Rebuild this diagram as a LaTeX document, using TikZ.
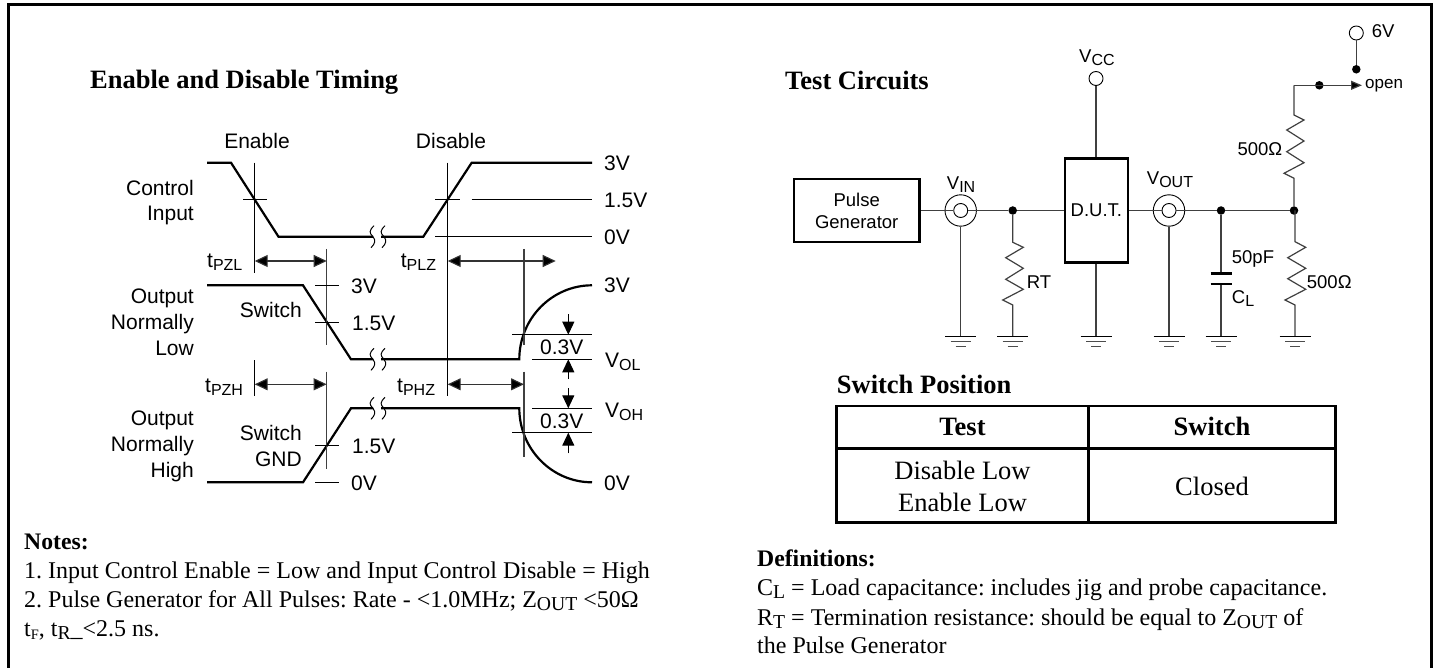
\documentclass[tikz,border=0pt]{standalone}
\usepackage{fontspec}
\setmainfont{Liberation Serif}
\newfontfamily\arialf{Liberation Sans}
\usetikzlibrary{arrows.meta}
\newcommand{\lowr}[2][0.82]{\raisebox{-3pt}{\scalebox{#1}{#2}}}
\newcommand{\rlowr}[1]{\raisebox{-3pt}{\fontsize{16}{16}\selectfont #1}}
\frenchspacing
\tikzset{
  lbl/.style={inner sep=0pt,font=\arialf\fontsize{21}{21}\selectfont,anchor=base west},
  lblr/.style={lbl,anchor=base east},
  lblc/.style={lbl,anchor=base},
  cl/.style={inner sep=0pt,font=\arialf\fontsize{18.5}{18.5}\selectfont,anchor=base west},
  clc/.style={cl,anchor=base},
  ttl/.style={inner sep=0pt,font=\bfseries\fontsize{26.5}{26.5}\selectfont,anchor=base west},
  note/.style={inner sep=0pt,font=\fontsize{24}{24}\selectfont,anchor=base west},
  cellt/.style={inner sep=0pt,font=\fontsize{26.5}{26.5}\selectfont,anchor=base},
  sig/.style={line width=2.2pt,black},
  thn/.style={line width=1pt,black},
  gry/.style={line width=1.2pt,black!75},
  wire/.style={line width=1.2pt,black!75},
  boxx/.style={line width=2.5pt,draw=black,inner sep=0pt},
  dim/.style={line width=1.1pt,black!80,{Triangle[length=13pt,width=12pt,fill=black]}-{Triangle[length=13pt,width=12pt,fill=black]}},
  dimr/.style={line width=1.1pt,black,-{Triangle[length=13pt,width=12pt]}},
  dot/.style={circle,fill=black,inner sep=0pt,minimum size=8.5pt},
  ring/.style={circle,draw=black,line width=0.9pt,fill=white,inner sep=0pt},
  gnd/.pic={\draw[line width=1.1pt,black] (-15.5,0)--(15.5,0);\draw[line width=1.1pt,black!70] (-10,5)--(10,5);\draw[line width=1.1pt,black!70] (-5,10)--(5,10);}
}
\begin{document}
\begin{tikzpicture}[x=1pt,y=-1pt]
\useasboundingbox (0,0) rectangle (1437,668);
\begin{scope}
\clip (0,0) rectangle (1437,668);
\draw[line width=3pt] (8.7,4.7) rectangle (1431.7,675);
\end{scope}
% titles
\node[ttl] (t1) at (90,88.3) {Enable and Disable Timing};
\node[ttl] (t2) at (785,90) {Test Circuits};
\node[ttl] (t3) at (836.7,393.3) {Switch Position};
% timing signals
\draw[sig] (207,162.7)--(231,162.7)--(278.5,236.7)--(373,236.7);
\draw[sig] (381,236.7)--(423.3,236.7)--(471.7,162.7)--(592,162.7);
\draw[sig] (207,285.3)--(303,285.3)--(351,359.3)--(373,359.3);
\draw[sig] (381,359.3)--(519.3,359.3) .. controls (519.3,318.5) and (552,285.3) .. (592,285.3);
\draw[sig] (207,482.3)--(303,482.3)--(351,408.3)--(373,408.3);
\draw[sig] (381,408.3)--(519.3,408.3) .. controls (519.3,449.1) and (552,482.3) .. (592,482.3);
% breaks
\foreach \yy in {236.7,359.3,408.3}{
 \foreach \xx in {0,11}{
  \draw[thn] ([xshift=\xx pt,yshift=11pt]374,\yy) .. controls ([xshift=\xx pt,yshift=6pt]369,\yy) and ([xshift=\xx pt,yshift=4pt]369,\yy) .. ([xshift=\xx pt]373,\yy) .. controls ([xshift=\xx pt,yshift=-4pt]376,\yy) and ([xshift=\xx pt,yshift=-7pt]375,\yy) .. ([xshift=\xx pt,yshift=-11pt]371,\yy);
 }
}
% verticals
\draw[thn] (254.7,162.7)--(254.7,272.7);
\draw[thn] (243,199.7)--(266.7,199.7);
\draw[gry] (326.7,249)--(326.7,345);
\draw[gry] (326.7,371.7)--(326.7,469.3);
\draw[thn] (315,285.3)--(339,285.3);
\draw[thn] (315,322.3)--(339,322.3);
\draw[thn] (315,445.3)--(339,445.3);
\draw[thn] (315,482.3)--(339,482.3);
\draw[thn] (254.7,360)--(254.7,395.7);
\draw[thn] (447.7,162.7)--(447.7,395.7);
\draw[thn] (435,199.7)--(460,199.7);
\draw[thn] (471.7,199.7)--(592,199.7);
\draw[thn] (435,236.7)--(592,236.7);
\draw[gry] (524,249)--(524,345);
\draw[gry] (524,371.7)--(524,457.3);
\draw[thn] (512.3,334.7)--(592,334.7);
\draw[thn] (532.3,359.3)--(592,359.3);
\draw[thn] (532.3,408.3)--(592,408.3);
\draw[thn] (512.3,432.7)--(592,432.7);
% dimension arrows
\coordinate (d1a) at (254.7,261); \coordinate (d1b) at (326.7,261);
\coordinate (d2a) at (254.7,384.3); \coordinate (d2b) at (326.7,384.3);
\coordinate (d3a) at (447.7,261); \coordinate (d3b) at (555.7,261);
\coordinate (d4a) at (447.7,384.3); \coordinate (d4b) at (524,384.3);
\draw[dim] (d1a)--(d1b);
\draw[dim] (d2a)--(d2b);
\draw[dim] (d3a)--(d3b);
\draw[dim] (d4a)--(d4b);
\draw[dimr] (568.3,314.3)--(568.3,334.7);
\draw[dimr] (568.3,379.3)--(568.3,359.3);
\draw[dimr] (568.3,388.3)--(568.3,408.3);
\draw[dimr] (568.3,453.3)--(568.3,432.7);
% timing labels
\node[lblc] (a1) at (257,149) {Enable};
\node[lblc] (a2) at (451,149) {Disable};
\node[lblr] (a3) at (194,196) {Control};
\node[lblr] (a4) at (194,221) {Input};
\node[lblr] (a5) at (194,303) {Output};
\node[lblr] (a6) at (194,329) {Normally};
\node[lblr] (a7) at (194,355) {Low};
\node[lblr] (a8) at (194,425) {Output};
\node[lblr] (a9) at (194,451) {Normally};
\node[lblr] (a10) at (194,477) {High};
\node[lblr] (a11) at (302,317) {Switch};
\node[lblr] (a12) at (302,440) {Switch};
\node[lblr] (a13) at (302,466) {GND};
\node[lbl] (b1) at (351,294) {3V};
\node[lbl] (b2) at (352,330) {1.5V};
\node[lbl] (b3) at (352,453) {1.5V};
\node[lbl] (b4) at (351,490) {0V};
\node[lbl] (c1) at (604,171) {3V};
\node[lbl] (c2) at (604,208) {1.5V};
\node[lbl] (c3) at (604,245) {0V};
\node[lbl] (c4) at (604,293) {3V};
\node[lbl] (c5) at (604,490) {0V};
\node[lbl] (e1) at (207,268) {t\rlowr{PZL}};
\node[lbl] (e2) at (205,392) {t\rlowr{PZH}};
\node[lbl] (e3) at (400.7,268) {t\rlowr{PLZ}};
\node[lbl] (e4) at (397,392) {t\rlowr{PHZ}};
\node[lblc] (f1) at (561.7,354) {0.3V};
\node[lblc] (f2) at (561.7,428) {0.3V};
\node[lbl] (g1) at (605,367.7) {V\rlowr{OL}};
\node[lbl] (g2) at (605,417) {V\rlowr{OH}};
% circuit
\node[boxx,minimum width=125.3pt,minimum height=63pt] (pg) at (856.7,210.5) {};
\node[clc] (pg1) at (856.7,206.7) {Pulse};
\node[clc] (pg2) at (856.7,228.3) {Generator};
\node[boxx,minimum width=62.7pt,minimum height=104.4pt] (dut) at (1096.4,210.5) {};
\node[clc] (dt) at (1096.4,217) {D.U.T.};
\node[ring,minimum size=31.4pt] (vi) at (960.7,210.5) {};
\node[ring,minimum size=14pt] (vii) at (960.7,210.5) {};
\node[ring,minimum size=31.4pt] (vo) at (1169,210.5) {};
\node[ring,minimum size=14pt] (voi) at (1169,210.5) {};
\node[dot] (j1) at (1012.7,210.5) {};
\node[dot] (j2) at (1221,210.5) {};
\node[dot] (j3) at (1294,210.5) {};
\node[dot] (j4) at (1319.3,85.3) {};
\node[dot] (j5) at (1356.3,69.3) {};
\node[ring,minimum size=14pt] (vcc) at (1096,78.5) {};
\node[ring,minimum size=14pt] (six) at (1356.3,33) {};
\coordinate (g1c) at (960.7,336.7);
\coordinate (g2c) at (1012.7,336.7);
\coordinate (g3c) at (1096,336.7);
\coordinate (g4c) at (1169,336.7);
\coordinate (g5c) at (1221,336.7);
\coordinate (g6c) at (1295,336.7);
\coordinate (corner) at (1294,85.3);
\coordinate (tip) at (1362,85.3);
\draw[wire] (pg.east)--(vi.west);
\draw[wire] (vi.east)--(vii.east);
\draw[wire] (vi.west)--(vii.west);
\draw[wire] (vi.east)--(j1);
\draw[wire] (j1)--(dut.west);
\draw[wire] (dut.east)--(vo.west);
\draw[wire] (vo.west)--(voi.west);
\draw[wire] (vo.east)--(voi.east);
\draw[wire] (vo.east)--(j2);
\draw[wire] (j2)--(j3);
\draw[wire] (vi.south)--(g1c);
\draw[wire] (vo.south)--(g4c);
\draw[wire] (dut.south-|g3c)--(g3c);
\draw[wire] (vcc.south)--(dut.north-|vcc);
\draw[wire] (six.south)--(j5);
\draw[wire] (j1)--(1012.7,242.3)--(1023.3,247.3)--(1005.7,257.7)--(1023.3,268.3)--(1005.7,279.3)--(1023.3,289.3)--(1002.7,300)--(1012.7,305)--(g2c);
\draw[wire] (1295,210.5)--(1295,241.7)--(1305.7,247.3)--(1287.7,257.7)--(1305.7,268.3)--(1287.7,278.7)--(1305.7,289.3)--(1285,300)--(1295,305)--(g6c);
\draw[wire] (j3)--(1294,178.3)--(1284,173.3)--(1304,162.7)--(1286.7,151.7)--(1304,141)--(1286.7,130)--(1304,120)--(1294,115)--(corner);
\draw[wire,-{Triangle[length=11pt,width=9pt,fill=black]}] (corner)--(tip);
% capacitor
\coordinate (c1t) at (1221,273.3);
\coordinate (c1b) at (1221,284);
\draw[wire] (j2)--(c1t);
\draw[wire] (c1b)--(g5c);
\draw[line width=2.5pt] (1210.7,273.3)--(1231.7,273.3);
\draw[line width=2.5pt] (1210.7,284)--(1231.7,284);
\foreach \c in {g1c,g2c,g3c,g4c,g5c,g6c}{\path (\c) pic {gnd};}
% circuit labels
\node[cl] (h1) at (946.7,190) {V\rlowr{IN}};
\node[cl] (h2) at (1079,63) {V\rlowr{CC}};
\node[cl] (h3) at (1146.7,185) {V\rlowr{OUT}};
\node[cl] (h4) at (1026.7,288) {RT};
\node[cl] (h5) at (1231.7,264) {50pF};
\node[cl] (h6) at (1231.7,303) {C\rlowr{L}};
\node[cl] (h7) at (1306.7,288) {500Ω};
\node[cl] (h8) at (1237.3,156) {500Ω};
\node[cl,font=\arialf\fontsize{17}{17}\selectfont] (h9) at (1365,88.3) {open};
\node[cl] (h10) at (1371.7,37.7) {6V};
% table
\draw[line width=2.5pt] (836.7,406) rectangle (1335.7,522.5);
\draw[line width=2.5pt] (836.7,448.5) -- (1335.7,448.5);
\draw[line width=2.5pt] (1088.5,406) -- (1088.5,522.5);
\node[ttl,anchor=base] (tb1) at (962.5,435.7) {Test};
\node[ttl,anchor=base] (tb2) at (1212,435.7) {Switch};
\node[cellt] (tb3) at (962.5,479) {Disable Low};
\node[cellt] (tb4) at (962.5,511) {Enable Low};
\node[cellt] (tb5) at (1212,495) {Closed};
% notes
\node[note,font=\bfseries\fontsize{23.7}{23.7}\selectfont] (n0) at (24,549) {Notes:};
\node[note] (n1) at (24,578) {1. Input Control Enable = Low and Input Control Disable = High};
\node[note] (n2) at (24,607) {2. Pulse Generator for All Pulses: Rate - <1.0MHz; Z\lowr{OUT} <50Ω};
\node[note] (n3) at (24,636) {t\lowr[0.6]{F}, t\lowr{R}\_<2.5 ns.};
\node[note,font=\bfseries\fontsize{23.7}{23.7}\selectfont] (d0) at (757,566) {Definitions:};
\node[note] (d1) at (757,595.5) {C\lowr{L} = Load capacitance: includes jig and probe capacitance.};
\node[note] (d2) at (757,625) {R\lowr{T} = Termination resistance: should be equal to Z\lowr{OUT} of};
\node[note] (d3) at (757,653) {the Pulse Generator};
\end{tikzpicture}
\end{document}
